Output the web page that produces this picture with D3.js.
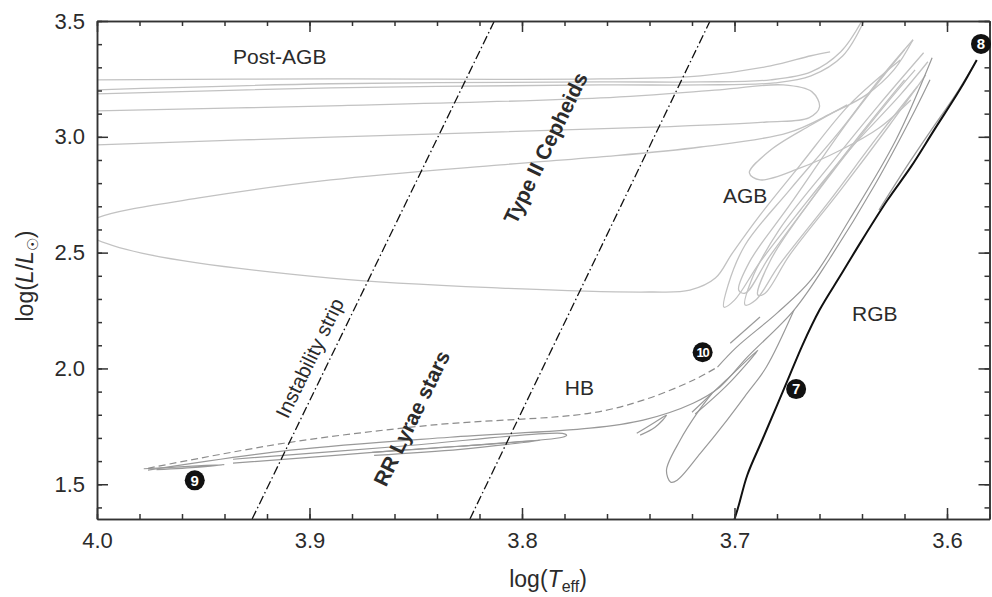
<!DOCTYPE html>
<html>
<head>
<meta charset="utf-8">
<script src="https://cdn.jsdelivr.net/npm/d3@7"></script>
<style>
body { margin: 0; background: #fff; }
svg text { font-family: "Liberation Sans", Arial, Helvetica, sans-serif; fill: #2b2b2b; }
</style>
</head>
<body>
<svg id="chart" width="992" height="597"></svg>
<script>
// axis ticks
var xTicks = [4.0, 3.9, 3.8, 3.7, 3.6];
var yTicks = [1.5, 2.0, 2.5, 3.0, 3.5];

// [log Teff, log L] pairs
var rgbBranch = [[3.700,1.349],[3.698,1.409],[3.694,1.539],[3.687,1.690],[3.680,1.841],[3.674,1.971],[3.668,2.101],[3.660,2.252],[3.650,2.403],[3.640,2.554],[3.628,2.727],[3.617,2.870],[3.606,3.030],[3.594,3.203],[3.586,3.332]];
var rgbTip = [[3.587,3.315],[3.596,3.181],[3.608,3.021],[3.620,2.857],[3.632,2.684]];

var postAgbA = [[4.000,3.246],[3.890,3.250],[3.763,3.250],[3.716,3.263],[3.683,3.306],[3.664,3.350],[3.655,3.367]];
var postAgbB = [[4.000,3.203],[3.890,3.229],[3.763,3.237],[3.716,3.237],[3.683,3.246],[3.664,3.280],[3.650,3.367],[3.640,3.501]];
var postAgbC = [[4.000,3.185],[3.890,3.211],[3.763,3.224],[3.716,3.224],[3.681,3.233],[3.664,3.263],[3.649,3.350],[3.639,3.501]];
var postAgbLoop = [[4.000,3.112],[3.890,3.134],[3.763,3.168],[3.707,3.203],[3.677,3.224],[3.6635,3.194],[3.660,3.129],[3.665,3.082],[3.685,3.064],[3.735,3.043],[3.890,2.999],[4.000,2.965]];
var bigLoop = [[3.616,3.419],[3.625,3.289],[3.638,3.181],[3.654,3.103],[3.675,3.017],[3.716,2.956],[3.763,2.913],[3.810,2.879],[3.890,2.814],[3.952,2.736],[4.000,2.650],[4.008,2.600],[4.000,2.555],[3.975,2.490],[3.890,2.390],[3.810,2.347],[3.740,2.330],[3.721,2.338],[3.709,2.390],[3.701,2.498],[3.688,2.662],[3.669,2.879],[3.646,3.138],[3.622,3.332]];

var agbFan1 = [[3.616,3.419],[3.632,3.246],[3.650,3.030],[3.674,2.771],[3.695,2.533],[3.703,2.360],[3.705,2.265],[3.700,2.295],[3.688,2.459],[3.669,2.684],[3.646,2.943],[3.622,3.181],[3.609,3.324]];
var agbFan2 = [[3.611,3.363],[3.632,3.138],[3.655,2.879],[3.679,2.598],[3.692,2.382],[3.695,2.274],[3.690,2.295],[3.679,2.446],[3.655,2.727],[3.632,3.008],[3.614,3.216]];
var agbFan3 = [[3.620,3.246],[3.641,3.008],[3.664,2.727],[3.683,2.468],[3.689,2.317],[3.6856,2.325],[3.674,2.490],[3.650,2.771],[3.627,3.051],[3.610,3.267]];
var agbFan4 = [[3.620,3.376],[3.646,3.073],[3.674,2.706],[3.693,2.459],[3.698,2.338],[3.695,2.325],[3.683,2.490],[3.655,2.835],[3.629,3.138],[3.615,3.289]];
var agbLoop = [[3.647,3.138],[3.664,3.051],[3.683,2.943],[3.693,2.844],[3.688,2.814],[3.669,2.866],[3.650,2.943],[3.632,3.038],[3.617,3.159]];

var zahb = [[3.976,1.569],[3.912,1.677],[3.843,1.755],[3.768,1.807],[3.743,1.863],[3.7195,1.949],[3.708,2.006]];
var hbToAgb = [[3.708,2.006],[3.699,2.092],[3.680,2.239],[3.664,2.382],[3.646,2.641],[3.624,2.987],[3.607,3.341]];
var hbTrack = [[3.976,1.561],[3.909,1.647],[3.834,1.703],[3.768,1.742],[3.743,1.777],[3.7195,1.850],[3.707,1.919],[3.694,2.049],[3.672,2.252],[3.655,2.477],[3.634,2.792],[3.615,3.116],[3.608,3.246]];
var hbLoop1 = [[3.936,1.608],[3.857,1.664],[3.781,1.720],[3.779,1.712],[3.781,1.703],[3.857,1.647],[3.936,1.591]];
var hbLoop2 = [[3.8705,1.638],[3.829,1.664],[3.7915,1.690],[3.829,1.651],[3.8696,1.625]];
var hbLoopSmall = [[3.746,1.720],[3.739,1.759],[3.732,1.798],[3.7374,1.746],[3.7444,1.712]];
var hbBigLoop = [[3.672,2.252],[3.685,2.006],[3.694,1.893],[3.7035,1.777],[3.716,1.634],[3.727,1.517],[3.730,1.509],[3.732,1.561],[3.7256,1.690],[3.7176,1.807],[3.7105,1.893]];
var hbNarrow = [[3.720,1.811],[3.704,1.949],[3.689,2.079],[3.703,1.932],[3.7185,1.803]];
var hbShort = [[3.702,2.109],[3.688,2.222]];
var hbBlueEnd = [[3.978,1.567],[3.955,1.578],[3.940,1.585],[3.952,1.574],[3.972,1.563]];

var blueEdge = [[3.927,1.35],[3.813,3.5]];
var redEdge = [[3.8245,1.35],[3.7115,3.5]];

var regionNames = ["Post-AGB", "AGB", "RGB", "HB"];
var regionT = [3.914, 3.695, 3.634, 3.773];
var regionL = [3.345, 2.749, 2.239, 1.919];

var stripNames = ["Instability strip", "RR Lyrae stars", "Type II Cepheids"];
var stripT = [3.900, 3.852, 3.789];
var stripL = [2.045, 1.785, 2.952];
var stripBold = [false, true, true];

var markerNames = ["8", "7", "9", "10"];
var markerT = [3.584, 3.671, 3.954, 3.715];
var markerL = [3.401, 1.911, 1.517, 2.070];

var svg = d3.select("#chart");
var plotLeft = 97, plotRight = 989.5, plotTop = 21, plotBottom = 519;

var x = d3.scaleLinear().domain([4.0, 3.58]).range([plotLeft, plotRight]);
var y = d3.scaleLinear().domain([1.35, 3.5]).range([plotBottom, plotTop]);

svg.append("clipPath").attr("id", "plot-clip")
	.append("rect")
	.attr("x", plotLeft).attr("y", plotTop)
	.attr("width", plotRight - plotLeft).attr("height", plotBottom - plotTop);

var plot = svg.append("g").attr("clip-path", "url(#plot-clip)");

var line = d3.line()
	.x(function(d) { return x(d[0]); })
	.y(function(d) { return y(d[1]); })
	.curve(d3.curveCatmullRom.alpha(0.5));

function drawTracks(list, color, width, dash) {
	plot.append("g")
		.selectAll("path")
		.data(list)
		.enter()
		.append("path")
		.attr("d", line)
		.attr("fill", "none")
		.attr("stroke", color)
		.attr("stroke-width", width)
		.attr("stroke-dasharray", dash || null)
		.attr("stroke-linejoin", "round");
}

// light grey AGB / post-AGB tracks
drawTracks([postAgbA, postAgbB, postAgbC, postAgbLoop, bigLoop, agbFan1, agbFan2, agbFan3, agbFan4, agbLoop], "#c2c2c2", 1.3);
drawTracks([rgbTip], "#9c9c9c", 1.3);
// horizontal branch tracks
drawTracks([hbTrack, hbToAgb, hbLoop1, hbLoop2, hbLoopSmall, hbBigLoop, hbNarrow, hbShort, hbBlueEnd], "#999", 1.2);
drawTracks([zahb], "#8c8c8c", 1.2, "7,4");

// instability strip edges
plot.append("g")
	.selectAll("path")
	.data([blueEdge, redEdge])
	.enter()
	.append("path")
	.attr("d", d3.line().x(function(d) { return x(d[0]); }).y(function(d) { return y(d[1]); }))
	.attr("fill", "none")
	.attr("stroke", "#111")
	.attr("stroke-width", 1.3)
	.attr("stroke-dasharray", "9,3,1.5,3");

// RGB
drawTracks([rgbBranch], "#111", 2);

// axes
var minorX = d3.range(0, 22).map(function(i) { return +(4.0 - i * 0.02).toFixed(2); });
var minorY = d3.range(0, 22).map(function(i) { return +(1.4 + i * 0.1).toFixed(1); });

function styleAxis(g) {
	g.selectAll("path, line").attr("stroke", "#333").attr("stroke-width", 1.5);
	g.selectAll("text").attr("fill", "#2b2b2b").style("font-size", "22px");
}

svg.append("g").attr("transform", "translate(0," + plotBottom + ")")
	.call(d3.axisBottom(x).tickValues(minorX).tickSizeInner(-5).tickSizeOuter(0).tickFormat(""))
	.call(styleAxis);
svg.append("g").attr("transform", "translate(0," + plotBottom + ")")
	.call(d3.axisBottom(x).tickValues(xTicks).tickSizeInner(-11).tickSizeOuter(0).tickPadding(13).tickFormat(d3.format(".1f")))
	.call(styleAxis);
svg.append("g").attr("transform", "translate(0," + plotTop + ")")
	.call(d3.axisTop(x).tickValues(minorX).tickSizeInner(-5).tickSizeOuter(0).tickFormat(""))
	.call(styleAxis);
svg.append("g").attr("transform", "translate(0," + plotTop + ")")
	.call(d3.axisTop(x).tickValues(xTicks).tickSizeInner(-11).tickSizeOuter(0).tickFormat(""))
	.call(styleAxis);
svg.append("g").attr("transform", "translate(" + plotLeft + ",0)")
	.call(d3.axisLeft(y).tickValues(minorY).tickSizeInner(-5).tickSizeOuter(0).tickFormat(""))
	.call(styleAxis);
svg.append("g").attr("transform", "translate(" + plotLeft + ",0)")
	.call(d3.axisLeft(y).tickValues(yTicks).tickSizeInner(-11).tickSizeOuter(0).tickPadding(12).tickFormat(d3.format(".1f")))
	.call(styleAxis);
svg.append("g").attr("transform", "translate(" + plotRight + ",0)")
	.call(d3.axisRight(y).tickValues(minorY).tickSizeInner(-5).tickSizeOuter(0).tickFormat(""))
	.call(styleAxis);
svg.append("g").attr("transform", "translate(" + plotRight + ",0)")
	.call(d3.axisRight(y).tickValues(yTicks).tickSizeInner(-11).tickSizeOuter(0).tickFormat(""))
	.call(styleAxis);

// region labels
svg.append("g")
	.selectAll("text")
	.data(regionNames)
	.enter()
	.append("text")
	.attr("x", function(d, i) { return x(regionT[i]); })
	.attr("y", function(d, i) { return y(regionL[i]); })
	.attr("dy", "0.36em")
	.attr("text-anchor", "middle")
	.style("font-size", "21px")
	.text(function(d) { return d; });

// labels along the instability strip
var angle = Math.atan2(y(blueEdge[1][1]) - y(blueEdge[0][1]), x(blueEdge[1][0]) - x(blueEdge[0][0])) * 180 / Math.PI;
svg.append("g")
	.selectAll("text")
	.data(stripNames)
	.enter()
	.append("text")
	.attr("transform", function(d, i) {
		return "translate(" + x(stripT[i]) + "," + y(stripL[i]) + ") rotate(" + angle + ")";
	})
	.attr("dy", "0.36em")
	.attr("text-anchor", "middle")
	.style("font-size", function(d, i) { return stripBold[i] ? "21px" : "20.5px"; })
	.style("font-weight", function(d, i) { return stripBold[i] ? "bold" : "normal"; })
	.text(function(d) { return d; });

// numbered markers
var markers = svg.append("g")
	.selectAll("g")
	.data(markerNames)
	.enter()
	.append("g")
	.attr("transform", function(d, i) { return "translate(" + x(markerT[i]) + "," + y(markerL[i]) + ")"; });
markers.append("circle").attr("r", 10).attr("fill", "#111");
markers.append("text")
	.attr("dy", "0.36em")
	.attr("text-anchor", "middle")
	.style("font-size", function(d) { return d.length > 1 ? "13px" : "15px"; })
	.style("font-weight", "bold")
	.style("letter-spacing", function(d) { return d.length > 1 ? "-1px" : null; })
	.style("fill", "#fff")
	.text(function(d) { return d; });

// axis titles
var xt = svg.append("text")
	.attr("x", 548).attr("y", 587)
	.attr("text-anchor", "middle")
	.style("font-size", "23px");
xt.append("tspan").text("log(");
xt.append("tspan").style("font-style", "italic").text("T");
xt.append("tspan").attr("dy", 5).style("font-size", "16px").text("eff");
xt.append("tspan").attr("dy", -5).text(")");

var yt = svg.append("text")
	.attr("transform", "translate(33,276) rotate(-90)")
	.attr("text-anchor", "middle")
	.style("font-size", "23px");
yt.append("tspan").text("log(");
yt.append("tspan").style("font-style", "italic").text("L");
yt.append("tspan").text("/");
yt.append("tspan").style("font-style", "italic").text("L");
yt.append("tspan").attr("dy", 5).style("font-size", "15px").text("\u2609");
yt.append("tspan").attr("dy", -5).text(")");
</script>
</body>
</html>
